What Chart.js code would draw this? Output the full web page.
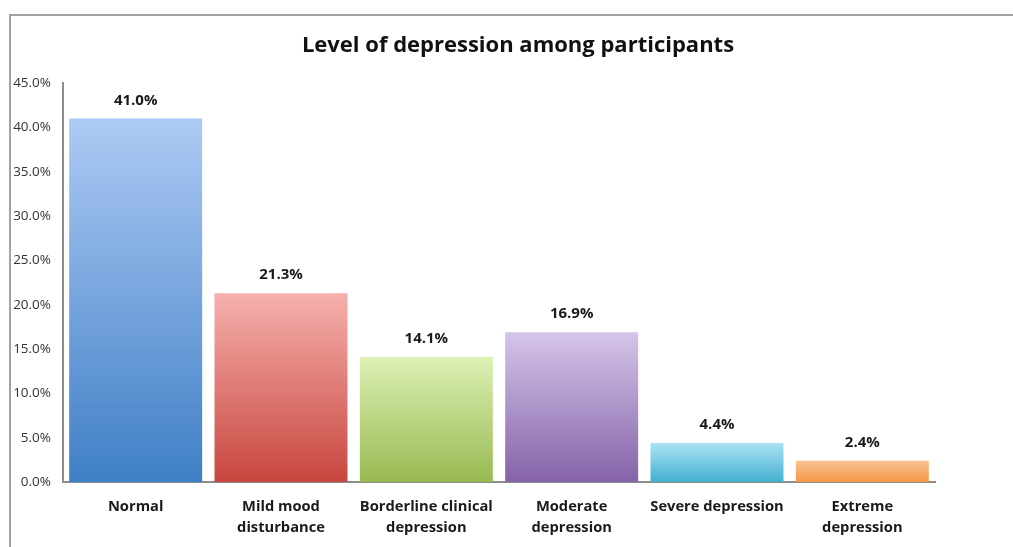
<!DOCTYPE html>
<html>
<head>
<meta charset="utf-8">
<script src="https://cdn.jsdelivr.net/npm/chart.js@4/dist/chart.umd.min.js"></script>
<style>
    body { margin: 0; background: #fff; overflow: hidden; }
    #wrap { position: relative; width: 1013px; height: 547px; }
    #marco {
        position: absolute; left: 9px; top: 14px; width: 1100px; height: 600px;
        border-top: 2px solid #a3a3a3; border-left: 2px solid #a3a3a3;
    }
    canvas { position: absolute; left: 0; top: 0; }
</style>
</head>
<body>
<div id="wrap">
    <div id="marco"></div>
    <canvas id="myChart" width="1013" height="547"></canvas>
</div>
<script>
const titulo = 'Level of depression among participants'
const categorias = [
    ['Normal'],
    ['Mild mood', 'disturbance'],
    ['Borderline clinical', 'depression'],
    ['Moderate', 'depression'],
    ['Severe depression'],
    ['Extreme', 'depression']
]
const porcentajes = [41.0, 21.3, 14.1, 16.9, 4.4, 2.4]
const coloresArriba = ['#adcaf4', '#f6b0ac', '#ddf0b4', '#d5c5e9', '#aae3f6', '#fbc391']
const coloresAbajo = ['#3f7fc6', '#c8463f', '#98ba52', '#8463a8', '#44afd0', '#f4984a']
const ticksY = [0, 5, 10, 15, 20, 25, 30, 35, 40, 45]

const fuente = "'Open Sans', 'DejaVu Sans', sans-serif"

function colorBarra(ctx) {
    const chart = ctx.chart
    const y = chart.scales.y
    if (!y || !chart.chartArea) return coloresAbajo[ctx.dataIndex]
    const tope = y.getPixelForValue(porcentajes[ctx.dataIndex])
    const base = y.getPixelForValue(0)
    const g = chart.ctx.createLinearGradient(0, tope, 0, base)
    g.addColorStop(0, coloresArriba[ctx.dataIndex])
    g.addColorStop(1, coloresAbajo[ctx.dataIndex])
    return g
}

// titulo y etiquetas de valor dibujados a mano
const textos = {
    id: 'textos',
    afterDatasetsDraw(chart) {
        const c = chart.ctx
        const meta = chart.getDatasetMeta(0)
        c.save()
        c.fillStyle = '#111'
        c.textAlign = 'center'
        c.textBaseline = 'middle'
        c.font = 'bold 22px ' + fuente
        c.fillText(titulo, 518, 46)
        c.font = 'bold 15px ' + fuente
        c.fillStyle = '#1a1a1a'
        meta.data.forEach((bar, i) => {
            c.fillText(porcentajes[i].toFixed(1) + '%', bar.x, bar.y - 18)
        })
        c.restore()
    }
}

const config = {
    type: 'bar',
    data: {
        labels: categorias,
        datasets: [{
            data: porcentajes,
            backgroundColor: colorBarra,
            barPercentage: 0.915,
            categoryPercentage: 1
        }]
    },
    options: {
        responsive: false,
        animation: false,
        layout: { padding: { left: 0, right: 78, top: 83, bottom: 0 } },
        plugins: {
            legend: { display: false },
            tooltip: { enabled: false },
            title: { display: false }
        },
        scales: {
            x: {
                grid: { display: false, drawTicks: false },
                border: { color: '#8c8c8c', width: 2 },
                ticks: {
                    color: '#1a1a1a',
                    padding: 15,
                    maxRotation: 0,
                    autoSkip: false,
                    font: { family: fuente, size: 14.7, weight: 'bold', lineHeight: 1.4 }
                },
                afterFit(scale) { scale.height = 65 }
            },
            y: {
                min: 0,
                max: 45,
                afterBuildTicks(scale) { scale.ticks = ticksY.map(v => ({ value: v })) },
                grid: { display: false, drawTicks: false },
                border: { color: '#8c8c8c', width: 2 },
                ticks: {
                    color: '#333',
                    padding: 12,
                    font: { family: fuente, size: 13.5 },
                    callback: v => v.toFixed(1) + '%'
                },
                afterFit(scale) { scale.width = 63 }
            }
        }
    },
    plugins: [textos]
}

new Chart(document.getElementById('myChart'), config)
</script>
</body>
</html>
